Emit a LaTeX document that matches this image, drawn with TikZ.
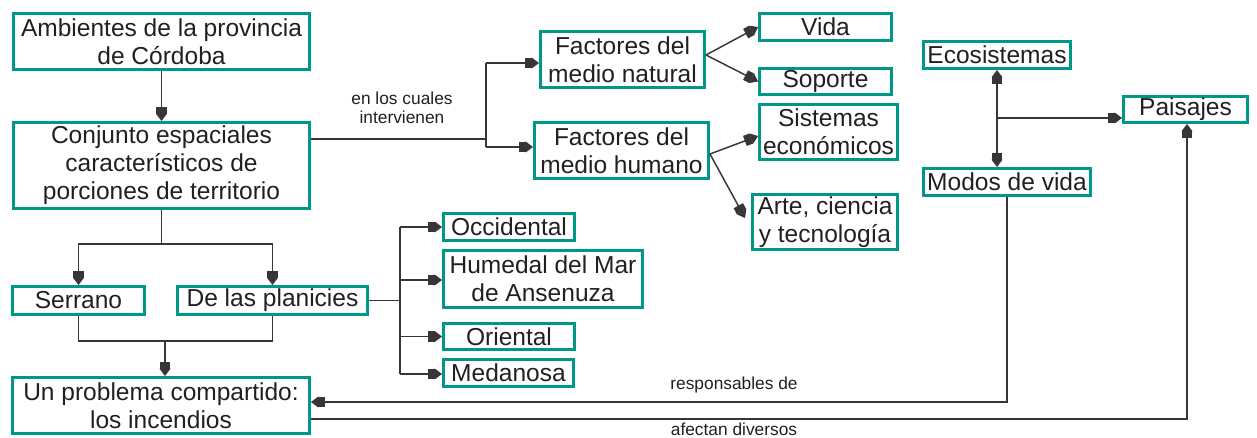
\documentclass[tikz,border=0pt]{standalone}
\usepackage{fontspec}
\setmainfont{Liberation Sans}
\usetikzlibrary{arrows.meta,calc}
\definecolor{tealbox}{RGB}{0,150,136}
\definecolor{ink}{RGB}{35,31,32}
\begin{document}
\begin{tikzpicture}[x=0.75pt,y=-0.75pt,
  box/.style={draw=tealbox,line width=2.2pt,inner sep=0pt,align=center,text=ink,font=\fontsize{18.4}{21}\selectfont},
  sz/.style 2 args={minimum width=#1*0.75pt,minimum height=#2*0.75pt},
  lbl/.style={inner sep=0pt,align=center,text=ink,font=\fontsize{13}{14.3}\selectfont},
  conn/.style={draw=ink!90,line width=1.1pt},
  arr/.style={conn,-{Rectangle[length=5pt,width=8pt,sep=0pt]Triangle[length=5.5pt,width=8pt,sep=0pt]}},
]
\useasboundingbox (0,0) rectangle (1257,438);

% boxes
\node[box,sz={296}{56}] (amb) at (161.5,41.5) {Ambientes de la provincia\\de Córdoba};
\node[box,sz={296}{86}] (conj) at (161.5,165.5) {Conjunto espaciales\\característicos de\\porciones de territorio};
\node[box,sz={164}{56}] (nat) at (622.5,59.5) {Factores del\\medio natural};
\node[box,sz={174}{56}] (hum) at (621.5,150.5) {Factores del\\medio humano};
\node[box,sz={132}{27}] (vida) at (825.5,27) {Vida};
\node[box,sz={132}{26}] (sop) at (825.5,81.5) {Soporte};
\node[box,sz={138}{55}] (sist) at (828.5,132) {Sistemas\\económicos};
\node[box,sz={145}{55}] (arte) at (825,222) {Arte, ciencia\\y tecnología};
\node[box,sz={147}{27}] (eco) at (997,55) {Ecosistemas};
\node[box,sz={124}{26}] (pais) at (1185.5,109.5) {Paisajes};
\node[box,sz={167}{27}] (modos) at (1007,182) {Modos de vida};
\node[box,sz={132}{28}] (serr) at (78.5,300.5) {Serrano};
\node[box,sz={190}{28}] (plan) at (272.5,300.5) {De las planicies};
\node[box,sz={131}{27}] (occ) at (509,227) {Occidental};
\node[box,sz={199}{57}] (hume) at (543,279) {Humedal del Mar\\de Ansenuza};
\node[box,sz={131}{26}] (ori) at (509,336.5) {Oriental};
\node[box,sz={130}{27}] (med) at (508.5,373) {Medanosa};
\node[box,sz={297}{56}] (prob) at (161,405.5) {Un problema compartido:\\los incendios};

% labels
\node[lbl] (l1) at (402,108) {en los cuales\\intervienen};
\node[lbl] (l2) at (734,385) {responsables de};
\node[lbl] (l3) at (734,429) {afectan diversos};

% connectors
\draw[arr] (amb.south) -- (conj.north);

\coordinate (jc) at (486,139);
\coordinate (jn) at (486,63);
\coordinate (jh) at (486,147);
\draw[conn] (conj.east |- jc) -- (jc);
\draw[conn] (jn) -- (jh);
\draw[arr] (jn) -- (nat.west |- jn);
\draw[arr] (jh) -- (hum.west |- jh);

\coordinate (on) at ($(nat.east)+(0,-4.5)$);
\draw[arr] (on) -- (vida.west);
\draw[arr] (on) -- (sop.west);
\coordinate (oh) at ($(hum.east)+(0,3.5)$);
\draw[arr] (oh) -- ($(sist.west)+(0,4)$);
\draw[arr] (oh) -- ($(arte.west)+(-6,-4)$);

\coordinate (em) at (997,118);
\draw[arr] (em) -- (eco.south);
\draw[arr] (em) -- (eco.south |- modos.north);
\draw[arr] (em) -- (pais.west |- em);

\draw[arr] (modos.south) |- ($(prob.east)+(0,-3.5)$);
\draw[arr] ($(prob.east)+(0,13.5)$) -| ($(pais.south)+(1.5,0)$);

\coordinate (cs) at (161.5,244);
\draw[conn] (conj.south) -- (cs);
\draw[arr] (cs) -| (serr.north);
\draw[arr] (cs) -| (plan.north);
\coordinate (sj) at (165,341);
\draw[conn] (serr.south) |- (sj) -| (plan.south);
\draw[arr] (sj) -- (sj |- prob.north);

\coordinate (pj) at (400,300.5);
\coordinate (pt) at (400,227);
\coordinate (pb) at (400,374);
\coordinate (ph) at (400,280);
\draw[conn] (plan.east) -- (pj);
\draw[conn] (pt) -- (pb);
\draw[arr] (pt) -- (occ.west);
\draw[arr] (ph) -- (hume.west |- ph);
\draw[arr] (pj |- ori.west) -- (ori.west);
\draw[arr] (pb) -- (med.west |- pb);
\end{tikzpicture}
\end{document}
